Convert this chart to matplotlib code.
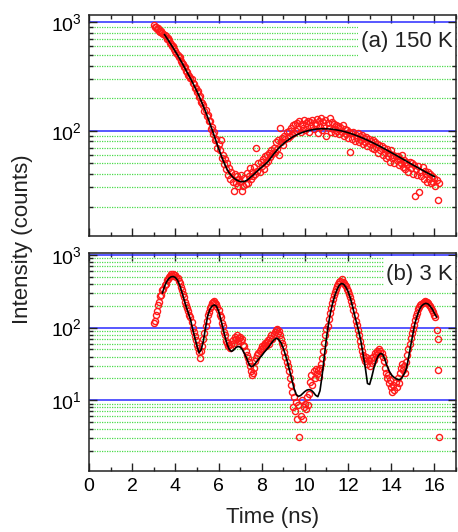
import numpy as np
import matplotlib
matplotlib.use("Agg")
import matplotlib.pyplot as plt
from matplotlib import ticker
from matplotlib.patches import Rectangle

plt.rcParams['font.family'] = ['Liberation Sans', 'DejaVu Sans']
plt.rcParams['mathtext.fontset'] = 'custom'
plt.rcParams['mathtext.rm'] = 'Liberation Sans'
plt.rcParams['mathtext.default'] = 'regular'

# measured decay, 150 K (bins of 0.05 ns starting at 3.0 ns)
t0_a, dt_a = 3.0, 0.05
counts_a = [
    945, 915, 900, 870, 880, 840, 820, 830, 790, 775, 760, 745, 705, 720, 690, 650, 630, 600, 610, 565,
    545, 520, 500, 475, 480, 445, 425, 410, 390, 385, 355, 350, 330, 320, 305, 300, 275, 270, 250, 248,
    228, 232, 205, 210, 185, 182, 172, 152, 156, 138, 140, 122, 124, 104, 108, 94, 98, 82, 84, 70,
    76, 66, 82, 56, 60, 49, 55, 44, 50, 39, 45, 36, 42, 34, 28, 40, 33, 38, 31, 36,
    34, 39, 28, 31, 37, 32, 41, 33, 38, 45, 36, 42, 38, 46, 40, 69, 43, 50, 42, 52,
    47, 55, 44, 58, 50, 60, 53, 62, 57, 66, 61, 70, 64, 78, 68, 82, 60, 107, 78, 85,
    74, 90, 84, 97, 85, 100, 90, 105, 94, 112, 95, 115, 99, 118, 103, 122, 98, 115, 106, 125,
    102, 118, 108, 124, 97, 120, 110, 126, 104, 118, 112, 128, 96, 122, 109, 131, 101, 120, 111, 126,
    89, 118, 106, 132, 98, 121, 104, 115, 95, 112, 100, 110, 93, 108, 97, 113, 90, 104, 94, 101,
    86, 98, 64, 95, 84, 97, 80, 92, 86, 96, 78, 90, 83, 92, 76, 86, 79, 88, 72, 84,
    75, 80, 70, 82, 68, 78, 71, 76, 62, 74, 66, 72, 60, 70, 64, 56, 68, 58, 62, 52,
    66, 56, 60, 50, 58, 54, 58, 48, 55, 50, 60, 46, 54, 44, 52, 48, 42, 52, 45, 50,
    40, 48, 25, 44, 39, 47, 27, 42, 38, 46, 36, 43, 40, 34, 42, 36, 40, 33, 38, 34,
    37, 31, 35, 23, 33,
]

# fitted curve, 150 K (0.1 ns steps from 3.5 ns)
fit_t0_a, fit_dt_a = 3.5, 0.1
fit_a = [
    770, 720, 670, 625, 580,
    538, 500, 462, 426, 392, 360, 331, 304, 278, 254,
    231, 209, 188, 168, 150, 133, 117, 103, 90, 79,
    69, 61, 54, 48.5, 44, 40.8, 38.6, 36.8, 35.5, 34.6,
    34.1, 33.9, 34.1, 34.8, 36, 37.5, 39, 40.8, 42.6, 44.4,
    46.2, 48, 50, 52.3, 55.5, 59, 62.5, 66, 69.5, 72.7,
    75.8, 78.8, 81.6, 84.3, 86.8, 89.2, 91.3, 93.3, 95.1, 96.8,
    98.3, 99.6, 100.8, 101.8, 102.7, 103.4, 103.9, 104.2, 104.4, 104.4,
    104.3, 104, 103.6, 103.1, 102.4, 101.6, 100.7, 99.7, 98.6, 97.4,
    96.1, 94.7, 93.3, 91.8, 90.2, 88.6, 87, 85.3, 83.6, 81.9,
    80.1, 78.4, 76.6, 74.9, 73.1, 71.4, 69.7, 68, 66.3, 64.6,
    63, 61.4, 59.8, 58.3, 56.8, 55.3, 53.9, 52.5, 51.1, 49.8,
    48.5, 47.3, 46.1, 44.9, 43.8, 42.7, 41.6, 40.6, 39.6, 38.7,
    37.8,
]

# measured decay, 3 K
t0_b, dt_b = 3.0, 0.05
counts_b = [
    115, 125, 148, 170, 205, 225, 270, 285, 330, 345, 390, 400, 450, 460, 500, 520, 540, 515, 550, 525,
    530, 505, 480, 440, 410, 360, 330, 290, 262, 225, 205, 185, 168, 150, 138, 118, 100, 88, 76, 68,
    58, 52, 46, 38, 48, 56, 70, 85, 105, 125, 150, 165, 185, 200, 215, 225, 232, 220, 210, 190,
    175, 150, 138, 115, 105, 88, 80, 66, 62, 55, 58, 52, 60, 68, 62, 75, 70, 78, 65, 72,
    74, 66, 70, 58, 55, 48, 42, 38, 34, 30, 25, 22, 24, 28, 35, 38, 42, 45, 48, 50,
    55, 52, 58, 62, 56, 64, 68, 60, 72, 78, 70, 82, 88, 92, 95, 85, 90, 78, 70, 62,
    55, 46, 40, 34, 30, 25, 20, 16, 13, 8, 11, 7, 9.5, 5.5, 8.5, 3.1, 6, 10, 5.6, 8,
    9, 7.5, 11, 8.5, 12, 18, 22, 16, 25, 20, 27, 23, 26, 21, 28, 32, 38, 48, 62, 78,
    95, 105, 130, 160, 185, 215, 250, 285, 310, 345, 370, 400, 420, 445, 460, 430, 410, 385, 370, 340,
    320, 290, 265, 230, 205, 175, 150, 125, 110, 92, 80, 66, 55, 48, 42, 38, 35, 40, 32, 36,
    30, 38, 33, 40, 36, 44, 42, 48, 45, 50, 47, 44, 40, 35, 28, 24, 20, 22, 17, 19,
    15, 13, 16, 14, 18, 15, 20, 17, 24, 28, 32, 26, 30, 24, 34, 42, 50, 60, 72, 85,
    95, 110, 128, 145, 160, 178, 190, 205, 212, 220, 225, 232, 228, 222, 218, 205, 200, 188, 175, 165,
    150, 138,
]
# last few bins at the end of the 3 K trace
tail_t_b = [16.10, 16.15, 16.15, 16.20]
tail_counts_b = [93, 70, 26, 3.1]

fit_t0_b, fit_dt_b = 3.4, 0.1
fit_b = [
    300, 370, 430, 475, 500, 505,
    490, 450, 385, 310, 245, 195, 160, 130, 96, 73,
    56, 45, 50, 66, 100, 145, 178, 198, 205, 198,
    170, 132, 100, 75, 59, 50, 47, 49, 53, 55,
    54, 50, 44, 38, 32, 29, 29.5, 32, 35, 38,
    41, 45, 49, 53, 58, 64, 69, 71.5, 68, 61,
    52, 42, 33, 25, 19, 14.5, 12, 11.3, 11.6, 12.4,
    13.2, 13.8, 14, 13.7, 12.8, 11.7, 11.2, 13.5, 22, 40,
    72, 115, 168, 225, 285, 340, 385, 405, 395, 360,
    315, 260, 200, 150, 115, 88, 64, 42, 28, 17,
    16.5, 21, 28, 35, 41, 44, 43, 37, 30, 25.5,
    22.5, 21, 20, 19.3, 19.2, 20.5, 23, 27, 38, 56,
    80, 115, 145, 175, 198, 210, 216, 212, 198, 180,
    158, 140,
]

panel_labels = ['(a) 150 K', '(b) 3 K']


def time_axis(t0, dt, n):
    return t0 + dt * np.arange(n)


def style_axis(ax, ylim):
    ax.set_yscale('log')
    ax.set_xlim(0, 17)
    ax.set_ylim(*ylim)
    ax.xaxis.set_major_locator(ticker.MultipleLocator(2))
    ax.xaxis.set_minor_locator(ticker.MultipleLocator(1))
    ax.yaxis.set_major_locator(ticker.LogLocator(base=10))
    ax.yaxis.set_minor_locator(ticker.LogLocator(base=10, subs=np.arange(2, 10)))
    ax.yaxis.set_minor_formatter(ticker.NullFormatter())
    ax.tick_params(which='both', direction='in', top=True, right=True,
                   labelsize=14, width=1.0, color='#222222', pad=5)
    ax.tick_params(which='major', length=5.5)
    ax.tick_params(which='minor', length=3)
    ax.set_axisbelow(True)
    ax.yaxis.grid(True, which='major', color='#2a2aff', lw=1.1, ls='-')
    ax.yaxis.grid(True, which='minor', color='#4bdc4b', lw=0.9, ls=(0, (1, 1)))
    for s in ax.spines.values():
        s.set_linewidth(1.1)
        s.set_color('#222222')


fig = plt.figure(figsize=(4.58, 5.32), dpi=100)
ax_a = fig.add_axes([0.1943, 0.5564, 0.8013, 0.4154])
ax_b = fig.add_axes([0.1943, 0.1152, 0.8013, 0.4098])

style_axis(ax_a, (10.7, 1170))
style_axis(ax_b, (1.07, 1075))

mk = dict(ls='none', marker='o', ms=4.4, mfc='none', mec='#ff1a1a', mew=1.0, zorder=2)

ax_a.plot(time_axis(t0_a, dt_a, len(counts_a)), counts_a, **mk)
ax_a.plot(time_axis(fit_t0_a, fit_dt_a, len(fit_a)), fit_a, color='black', lw=1.2, zorder=3)

ax_b.plot(time_axis(t0_b, dt_b, len(counts_b)), counts_b, **mk)
ax_b.plot(tail_t_b, tail_counts_b, **mk)
ax_b.plot(time_axis(fit_t0_b, fit_dt_b, len(fit_b)), fit_b, color='black', lw=1.2, zorder=3)

ax_a.tick_params(labelbottom=False)

# white patches behind the panel labels hide the grid there
ax_a.add_patch(Rectangle((0.733, 0.796), 0.267, 0.163, transform=ax_a.transAxes,
                         facecolor='white', edgecolor='none', zorder=1))
ax_b.add_patch(Rectangle((0.805, 0.835), 0.195, 0.15, transform=ax_b.transAxes,
                         facecolor='white', edgecolor='none', zorder=1))
ax_a.text(0.99, 0.882, panel_labels[0], transform=ax_a.transAxes, ha='right', va='center',
          fontsize=16, color='#222222', zorder=4)
ax_b.text(0.99, 0.902, panel_labels[1], transform=ax_b.transAxes, ha='right', va='center',
          fontsize=16, color='#222222', zorder=4)

ax_b.set_xlabel('Time (ns)', fontsize=16, color='#222222', labelpad=9)
fig.text(0.05, 0.55, 'Intensity (counts)', rotation=90, ha='center', va='center',
         fontsize=16, color='#222222')

fig.savefig('out.png', dpi=100)
